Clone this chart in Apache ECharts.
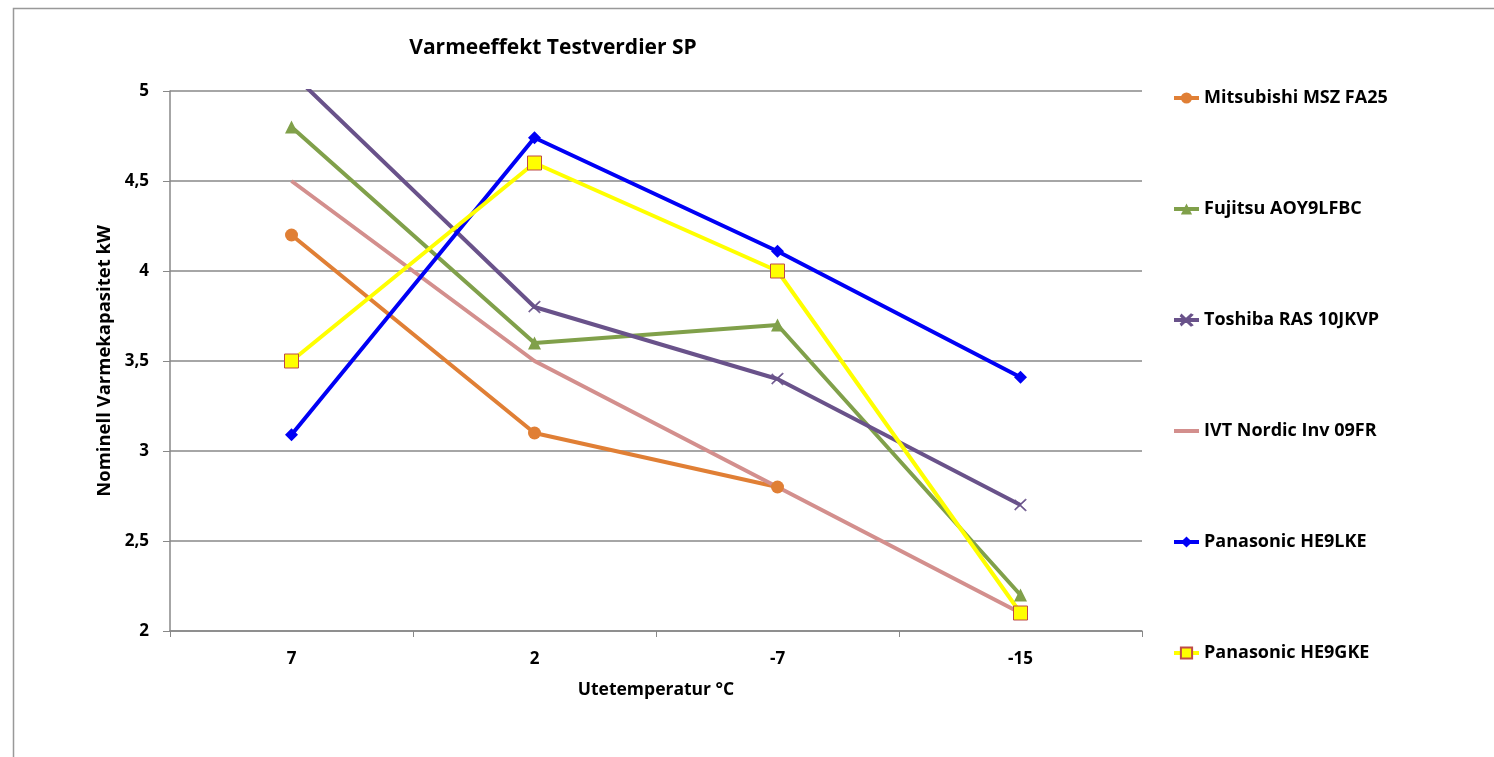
<!DOCTYPE html>
<html>
<head>
<meta charset="utf-8">
<script src="https://cdn.jsdelivr.net/npm/echarts@6/dist/echarts.min.js"></script>
<style>
  html, body { margin: 0; padding: 0; background: #fff; }
  #chart { width: 1494px; height: 757px; }
</style>
</head>
<body>
<div id="chart"></div>
<script>
// kategorier (utetemperatur)
const temps = ["7", "2", "-7", "-15"];
// verdier kW per modell
const mitsubishi = [4.2, 3.1, 2.8, null];
const fujitsu = [4.8, 3.6, 3.7, 2.2];
const toshiba = [5.1, 3.8, 3.4, 2.7];
const ivt = [4.5, 3.5, 2.8, 2.1];
const panLKE = [3.09, 4.74, 4.11, 3.41];
const panGKE = [3.5, 4.6, 4.0, 2.1];

const fontFam = "'Open Sans', Lato, sans-serif";
const xPath = "path://M0,0L10,10L9,10.6L-0.6,1Z M10,0L0,10L-0.6,9L9,-0.6Z";

const chart = echarts.init(document.getElementById("chart"));

function mk(name, data, color, symbol, size, extra) {
  return Object.assign({
    name: name,
    type: "line",
    data: data,
    symbol: symbol,
    symbolSize: size,
    showSymbol: symbol !== "none",
    lineStyle: { color: color, width: 4 },
    itemStyle: { color: color },
    animation: false,
  }, extra || {});
}

const option = {
  animation: false,
  title: {
    text: "Varmeeffekt Testverdier SP",
    left: 548,
    top: 33,
    textAlign: "center",
    textStyle: { fontFamily: fontFam, fontSize: 21, fontWeight: "bold", color: "#000" },
  },
  graphic: [{
    type: "rect",
    shape: { x: 13.5, y: 8.5, width: 1500, height: 800 },
    style: { fill: null, stroke: "#999", lineWidth: 1.5 },
    silent: true,
  }],
  legend: {
    orient: "vertical",
    left: 1167,
    top: 84,
    itemGap: 93,
    itemWidth: 25,
    itemHeight: 14,
    lineStyle: { width: 4 },
    textStyle: { fontFamily: fontFam, fontSize: 18, fontWeight: "bold", color: "#000" },
    data: ["Mitsubishi MSZ FA25", "Fujitsu AOY9LFBC", "Toshiba RAS 10JKVP",
      { name: "IVT Nordic Inv 09FR", icon: "path://M0,0L25,0L25,4L0,4Z" },
      "Panasonic HE9LKE", "Panasonic HE9GKE"],
  },
  grid: { left: 170, right: 352, top: 91, bottom: 126 },
  xAxis: {
    type: "category",
    data: temps,
    boundaryGap: true,
    name: "Utetemperatur °C",
    nameLocation: "middle",
    nameGap: 50,
    nameTextStyle: { fontFamily: fontFam, fontSize: 17.5, fontWeight: "bold", color: "#000" },
    axisLine: { lineStyle: { color: "#888", width: 1.5 } },
    axisTick: { show: true, length: 6, lineStyle: { color: "#888" } },
    axisLabel: { fontFamily: fontFam, fontSize: 17, fontWeight: "bold", color: "#000", margin: 20 },
  },
  yAxis: {
    type: "value",
    min: 2,
    max: 5,
    interval: 0.5,
    name: "Nominell Varmekapasitet kW",
    nameLocation: "middle",
    nameGap: 55,
    nameTextStyle: { fontFamily: fontFam, fontSize: 18.5, fontWeight: "bold", color: "#000" },
    axisLine: { show: true, lineStyle: { color: "#888", width: 1.5 } },
    axisTick: { show: true, length: 7, lineStyle: { color: "#888" } },
    splitLine: { lineStyle: { color: "#888", width: 1.5 } },
    axisLabel: {
      fontFamily: fontFam, fontSize: 17, fontWeight: "bold", color: "#000", margin: 21,
      formatter: (v) => String(v).replace(".", ","),
    },
  },
  series: [
    mk("Mitsubishi MSZ FA25", mitsubishi, "#E07F35", "circle", 13),
    mk("Fujitsu AOY9LFBC", fujitsu, "#80A04A", "triangle", 13),
    mk("Toshiba RAS 10JKVP", toshiba, "#69528A", xPath, 12,
      { itemStyle: { color: "#69528A", borderColor: "#69528A", borderWidth: 0.5 } }),
    mk("IVT Nordic Inv 09FR", ivt, "#D38F8D", "none", 0),
    mk("Panasonic HE9LKE", panLKE, "#0000F5", "diamond", 13),
    mk("Panasonic HE9GKE", panGKE, "#FFFF00", "rect", 14,
      { itemStyle: { color: "#FFFF00", borderColor: "#BE4B48", borderWidth: 1 } }),
  ],
};

chart.setOption(option);
window.addEventListener("resize", () => {
  chart.resize();
});
</script>
</body>
</html>
